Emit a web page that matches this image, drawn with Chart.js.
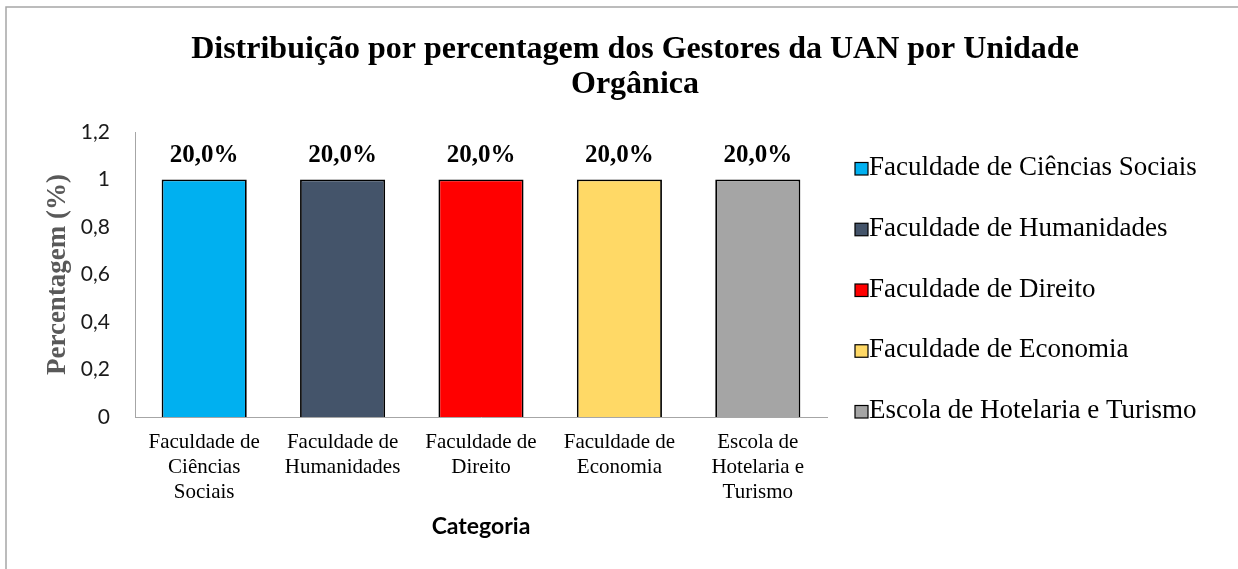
<!DOCTYPE html>
<html lang="pt">
    <head>
        <meta charset="utf-8" />
        <script src="https://cdn.jsdelivr.net/npm/chart.js@4.4.1/dist/chart.umd.min.js"></script>
        <title>Gestores da UAN por Unidade Orgânica</title>
        <style>
            html, body { margin: 0; padding: 0; background: #fff; }
            canvas { display: block; }
        </style>
    </head>
    <body>
        <canvas id="grafico" width="1238" height="569"></canvas>
        <script>
            // dados
            var categorias = [
                "Faculdade de Ciências Sociais",
                "Faculdade de Humanidades",
                "Faculdade de Direito",
                "Faculdade de Economia",
                "Escola de Hotelaria e Turismo",
            ];
            var rotulosEixo = [
                ["Faculdade de", "Ciências", "Sociais"],
                ["Faculdade de", "Humanidades"],
                ["Faculdade de", "Direito"],
                ["Faculdade de", "Economia"],
                ["Escola de", "Hotelaria e", "Turismo"],
            ];
            var gestores = [1, 1, 1, 1, 1];
            var percentagens = [20.0, 20.0, 20.0, 20.0, 20.0];
            var cores = ["#00B0F0", "#44546A", "#FF0000", "#FFD966", "#A5A5A5"];
            var tituloLinhas = ["Distribuição por percentagem dos Gestores da UAN por Unidade", "Orgânica"];

            var SERIF = '"Liberation Serif", "Times New Roman", serif';
            var SANS = 'Lato, "Liberation Sans", sans-serif';

            function virgula(v) {
                return String(Math.round(v * 10) / 10).replace(".", ",");
            }

            // moldura, título, rótulos e legenda desenhados à mão
            var extras = {
                id: "extras",
                beforeDraw: function (chart) {
                    var ctx = chart.ctx;
                    ctx.save();
                    ctx.strokeStyle = "#a6a6a6";
                    ctx.lineWidth = 1.5;
                    ctx.strokeRect(6, 7, 1400, 800);
                    ctx.restore();
                },
                afterDatasetsDraw: function (chart) {
                    var ctx = chart.ctx;
                    var meta = chart.getDatasetMeta(0);
                    ctx.save();
                    ctx.font = "bold 25px " + SERIF;
                    ctx.fillStyle = "#000";
                    ctx.textAlign = "center";
                    ctx.textBaseline = "alphabetic";
                    meta.data.forEach(function (barra, i) {
                        ctx.fillText(percentagens[i].toFixed(1).replace(".", ",") + "%", barra.x, barra.y - 18);
                    });
                    ctx.restore();
                },
                afterDraw: function (chart) {
                    var ctx = chart.ctx;
                    var area = chart.chartArea;
                    ctx.save();
                    // título
                    ctx.font = "bold 32px " + SERIF;
                    ctx.fillStyle = "#000";
                    ctx.textAlign = "center";
                    ctx.textBaseline = "alphabetic";
                    tituloLinhas.forEach(function (linha, i) {
                        ctx.fillText(linha, 635, 58 + i * 35);
                    });
                    // legenda
                    ctx.textAlign = "left";
                    ctx.font = "27px " + SERIF;
                    var bx = area.right + 28;
                    categorias.forEach(function (nome, i) {
                        var base = area.top + 43 + i * 60.75;
                        ctx.fillStyle = cores[i];
                        ctx.fillRect(bx, base - 12.5, 13, 12.5);
                        ctx.strokeStyle = "#000";
                        ctx.lineWidth = 1.2;
                        ctx.strokeRect(bx, base - 12.5, 13, 12.5);
                        ctx.fillStyle = "#000";
                        ctx.fillText(nome, bx + 14, base);
                    });
                    ctx.restore();
                },
            };

            new Chart(document.getElementById("grafico").getContext("2d"), {
                type: "bar",
                data: {
                    labels: rotulosEixo,
                    datasets: [
                        {
                            label: "Gestores",
                            data: gestores,
                            backgroundColor: cores,
                            borderColor: "#000",
                            borderWidth: 1.8,
                            categoryPercentage: 1,
                            barPercentage: 0.615,
                        },
                    ],
                },
                options: {
                    responsive: false,
                    animation: false,
                    layout: { padding: { top: 132, right: 411, bottom: 0, left: 0 } },
                    plugins: {
                        legend: { display: false },
                        title: { display: false },
                        tooltip: { enabled: false },
                    },
                    scales: {
                        x: {
                            grid: { display: false, drawTicks: false },
                            border: { color: "#a6a6a6", width: 1 },
                            ticks: {
                                color: "#000",
                                font: { family: SERIF, size: 21, lineHeight: 1.19 },
                                padding: 13,
                                maxRotation: 0,
                                autoSkip: false,
                            },
                            title: {
                                display: true,
                                text: "Categoria",
                                color: "#000",
                                font: { family: SANS, size: 23, weight: "bold" },
                                padding: { top: 0, bottom: 29 },
                            },
                            afterFit: function (escala) {
                                escala.height = 152;
                            },
                        },
                        y: {
                            min: 0,
                            max: 1.2,
                            grid: { display: false, drawTicks: false },
                            border: { color: "#a6a6a6", width: 1 },
                            ticks: {
                                stepSize: 0.2,
                                color: "#1a1a1a",
                                padding: 25,
                                font: { family: SANS, size: 21 },
                                callback: function (v) {
                                    return virgula(v);
                                },
                            },
                            title: {
                                display: true,
                                text: "Percentagem (%)",
                                color: "#595959",
                                font: { family: SERIF, size: 27, weight: "bold" },
                                padding: { top: 42, bottom: 0 },
                            },
                            afterFit: function (escala) {
                                escala.width = 135;
                            },
                        },
                    },
                },
                plugins: [extras],
            });
        </script>
    </body>
</html>
